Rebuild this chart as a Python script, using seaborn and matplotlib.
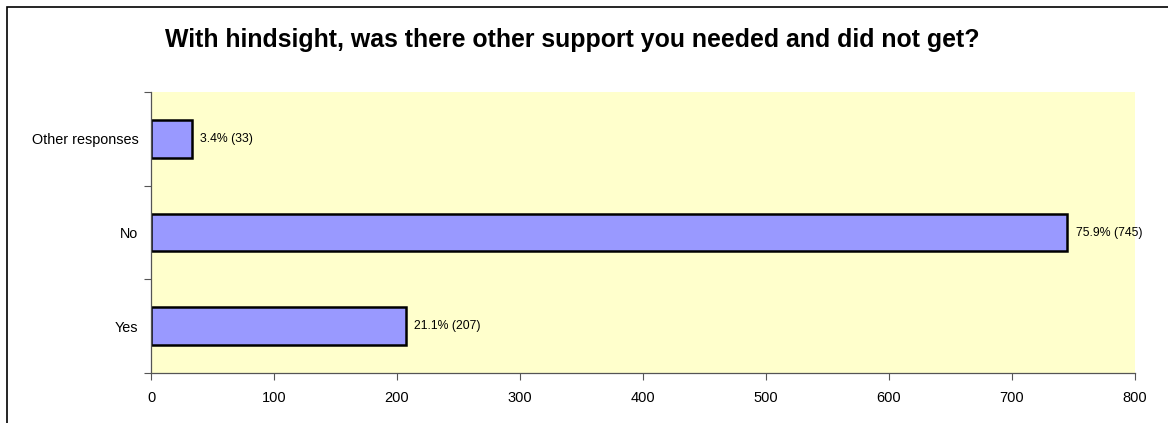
import matplotlib
matplotlib.use("Agg")
import matplotlib.pyplot as plt
from matplotlib.patches import Rectangle
import seaborn as sns
import pandas as pd

categories = ["Other responses", "No", "Yes"]
counts = [33, 745, 207]
percents = [3.4, 75.9, 21.1]
x_ticks = [0, 100, 200, 300, 400, 500, 600, 700, 800]

sns.set_theme(style="white")
plt.rcParams["font.family"] = ["Liberation Sans", "DejaVu Sans"]
plt.rcParams["text.color"] = "black"
plt.rcParams["xtick.color"] = "black"
plt.rcParams["ytick.color"] = "black"

df = pd.DataFrame({"response": categories, "count": counts})

fig = plt.figure(figsize=(11.68, 4.23), dpi=100)
fig.patch.set_facecolor("white")

# outer chart frame
fig.patches.append(Rectangle((7 / 1168, -0.1), 1.2, (423 - 7) / 423 + 0.1,
                             transform=fig.transFigure, fill=False,
                             edgecolor="black", linewidth=1.2))

ax = fig.add_axes([151 / 1168, 1 - 373 / 423, (1135 - 151) / 1168, (373 - 92) / 423])
ax.set_facecolor("#FFFFCC")

sns.barplot(data=df, x="count", y="response", orient="h", order=categories,
            color="#9999FF", saturation=1, width=0.4,
            edgecolor="black", linewidth=1.8, ax=ax)

for i, (c, p) in enumerate(zip(counts, percents)):
    ax.annotate(f"{p}% ({c})", xy=(c, i), xytext=(6, 0), textcoords="offset points",
                va="center", ha="left", fontsize=8.8, color="black")

ax.set_xlim(0, 800)
ax.set_ylim(2.5, -0.5)
ax.set_xticks(x_ticks)
ax.set_xticklabels([str(t) for t in x_ticks], fontsize=10.5)
ax.set_yticks(range(len(categories)))
ax.set_yticklabels(categories, fontsize=10.4)
ax.set_yticks([-0.5, 0.5, 1.5, 2.5], minor=True)
ax.tick_params(axis="y", which="major", left=False, length=0, pad=9)
ax.tick_params(axis="y", which="minor", left=True, length=5, width=0.8,
               color="#555555", direction="out")
ax.tick_params(axis="x", which="major", bottom=True, length=5, width=0.8,
               color="#555555", direction="out", pad=8)
ax.set_xlabel("")
ax.set_ylabel("")

for side in ["top", "right"]:
    ax.spines[side].set_visible(False)
for side in ["left", "bottom"]:
    ax.spines[side].set_color("#555555")
    ax.spines[side].set_linewidth(0.9)

fig.text(572 / 1168, 1 - 40 / 423, "With hindsight, was there other support you needed and did not get?",
         ha="center", va="center", fontsize=17.9, fontweight="bold", color="black")

fig.savefig("out.png", dpi=100)
